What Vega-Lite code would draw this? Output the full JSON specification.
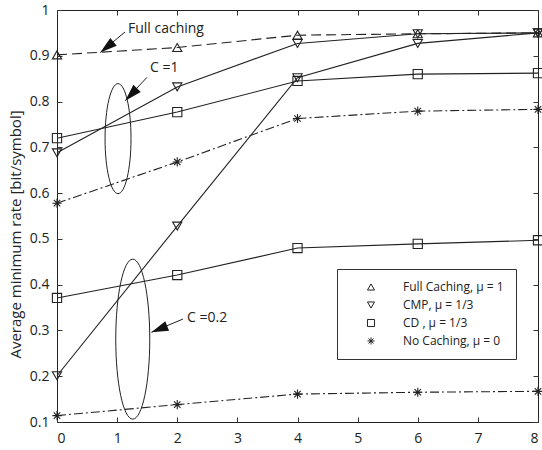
{
  "$schema": "https://vega.github.io/schema/vega-lite/v6.json",
  "width": 481,
  "height": 412,
  "autosize": "none",
  "padding": {"left": 57, "top": 10, "right": 4, "bottom": 28},
  "background": "white",
  "config": {
    "view": {"stroke": "#222", "strokeWidth": 1},
    "font": "Open Sans",
    "axis": {
      "grid": false,
      "domain": false,
      "tickColor": "#333",
      "tickSize": -5,
      "labelColor": "#222",
      "labelFont": "Open Sans",
      "labelFontSize": 14,
      "titleFont": "Open Sans",
      "titleFontSize": 15,
      "titleFontWeight": "normal",
      "titleColor": "#222"
    }
  },
  "resolve": {"axis": {"x": "independent", "y": "independent"}},
  "datasets": {
    "curves": [
      {"method": "Full Caching, μ = 1", "C": "all", "x": 0, "y": 0.902},
      {"method": "Full Caching, μ = 1", "C": "all", "x": 2, "y": 0.918},
      {"method": "Full Caching, μ = 1", "C": "all", "x": 4, "y": 0.945},
      {"method": "Full Caching, μ = 1", "C": "all", "x": 6, "y": 0.948},
      {"method": "Full Caching, μ = 1", "C": "all", "x": 8, "y": 0.95},
      {"method": "CMP,  μ = 1/3", "C": "1", "x": 0, "y": 0.688},
      {"method": "CMP,  μ = 1/3", "C": "1", "x": 2, "y": 0.832},
      {"method": "CMP,  μ = 1/3", "C": "1", "x": 4, "y": 0.927},
      {"method": "CMP,  μ = 1/3", "C": "1", "x": 6, "y": 0.948},
      {"method": "CMP,  μ = 1/3", "C": "1", "x": 8, "y": 0.95},
      {"method": "CMP,  μ = 1/3", "C": "0.2", "x": 0, "y": 0.201},
      {"method": "CMP,  μ = 1/3", "C": "0.2", "x": 2, "y": 0.528},
      {"method": "CMP,  μ = 1/3", "C": "0.2", "x": 4, "y": 0.852},
      {"method": "CMP,  μ = 1/3", "C": "0.2", "x": 6, "y": 0.927},
      {"method": "CMP,  μ = 1/3", "C": "0.2", "x": 8, "y": 0.95},
      {"method": "CD , μ = 1/3", "C": "1", "x": 0, "y": 0.72},
      {"method": "CD , μ = 1/3", "C": "1", "x": 2, "y": 0.777},
      {"method": "CD , μ = 1/3", "C": "1", "x": 4, "y": 0.845},
      {"method": "CD , μ = 1/3", "C": "1", "x": 6, "y": 0.86},
      {"method": "CD , μ = 1/3", "C": "1", "x": 8, "y": 0.862},
      {"method": "CD , μ = 1/3", "C": "0.2", "x": 0, "y": 0.371},
      {"method": "CD , μ = 1/3", "C": "0.2", "x": 2, "y": 0.421},
      {"method": "CD , μ = 1/3", "C": "0.2", "x": 4, "y": 0.48},
      {"method": "CD , μ = 1/3", "C": "0.2", "x": 6, "y": 0.489},
      {"method": "CD , μ = 1/3", "C": "0.2", "x": 8, "y": 0.497},
      {"method": "No Caching, μ = 0", "C": "1", "x": 0, "y": 0.578},
      {"method": "No Caching, μ = 0", "C": "1", "x": 2, "y": 0.668},
      {"method": "No Caching, μ = 0", "C": "1", "x": 4, "y": 0.763},
      {"method": "No Caching, μ = 0", "C": "1", "x": 6, "y": 0.779},
      {"method": "No Caching, μ = 0", "C": "1", "x": 8, "y": 0.783},
      {"method": "No Caching, μ = 0", "C": "0.2", "x": 0, "y": 0.114},
      {"method": "No Caching, μ = 0", "C": "0.2", "x": 2, "y": 0.138},
      {"method": "No Caching, μ = 0", "C": "0.2", "x": 4, "y": 0.161},
      {"method": "No Caching, μ = 0", "C": "0.2", "x": 6, "y": 0.165},
      {"method": "No Caching, μ = 0", "C": "0.2", "x": 8, "y": 0.167}
    ],
    "labels": [
      {"label": "Full caching", "x": 1.18, "y": 0.958},
      {"label": "C =1", "x": 1.547, "y": 0.873},
      {"label": "C =0.2", "x": 2.162, "y": 0.327}
    ],
    "arrows": [
      {"name": "full", "x": 1.131, "y": 0.952, "x2": 0.72, "y2": 0.907},
      {"name": "c1", "x": 1.497, "y": 0.853, "x2": 1.135, "y2": 0.802},
      {"name": "c02", "x": 2.096, "y": 0.325, "x2": 1.57, "y2": 0.296}
    ]
  },
  "layer": [
    {
      "data": {"name": "curves"},
      "transform": [{"filter": "datum.method === 'Full Caching, μ = 1'"}],
      "mark": {"type": "line", "color": "#222", "strokeWidth": 1.1, "strokeDash": [10, 5]},
      "encoding": {
        "x": {"field": "x", "type": "quantitative", "scale": {"domain": [0, 8]}, "axis": {"values": [0,1,2,3,4,5,6,7,8], "title": null, "labelPadding": 14}},
        "y": {"field": "y", "type": "quantitative", "scale": {"domain": [0.1, 1], "zero": false}, "axis": {"values": [0.1,0.2,0.3,0.4,0.5,0.6,0.7,0.8,0.9,1], "format": "~g", "title": "Average minimum rate [bit/symbol]", "labelPadding": 13, "titleX": -42, "titleY": 224, "titleAngle": -90, "titleAlign": "center", "titleBaseline": "middle"}}
      }
    },
    {
      "data": {"name": "curves"},
      "transform": [{"filter": "datum.method === 'CMP,  μ = 1/3' || datum.method === 'CD , μ = 1/3'"}],
      "mark": {"type": "line", "color": "#222", "strokeWidth": 1.1},
      "encoding": {
        "x": {"field": "x", "type": "quantitative", "axis": {"orient": "top", "labels": false, "title": null, "values": [0,1,2,3,4,5,6,7,8]}},
        "y": {"field": "y", "type": "quantitative", "axis": {"orient": "right", "labels": false, "title": null, "values": [0.1,0.2,0.3,0.4,0.5,0.6,0.7,0.8,0.9,1]}},
        "detail": [{"field": "method"}, {"field": "C"}]
      }
    },
    {
      "data": {"name": "curves"},
      "transform": [{"filter": "datum.method === 'No Caching, μ = 0'"}],
      "mark": {"type": "line", "color": "#222", "strokeWidth": 1.1, "strokeDash": [9, 3, 2, 3]},
      "encoding": {
        "x": {"field": "x", "type": "quantitative", "axis": null},
        "y": {"field": "y", "type": "quantitative", "axis": null},
        "detail": {"field": "C"}
      }
    },
    {
      "data": {"name": "curves"},
      "mark": {"type": "point", "filled": false, "color": "#222", "strokeWidth": 1.1, "size": 85, "opacity": 1},
      "encoding": {
        "x": {"field": "x", "type": "quantitative", "axis": null},
        "y": {"field": "y", "type": "quantitative", "axis": null},
        "shape": {"field": "method", "type": "nominal",
          "scale": {"domain": ["Full Caching, μ = 1", "CMP,  μ = 1/3", "CD , μ = 1/3", "No Caching, μ = 0"],
                    "range": ["triangle-up", "triangle-down", "square", "M0,-1L0,1M-1,0L1,0M-0.7,-0.7L0.7,0.7M-0.7,0.7L0.7,-0.7"]},
          "legend": {
            "title": null, "orient": "none", "legendX": 280, "legendY": 259,
            "strokeColor": "#333", "fillColor": "white", "padding": 12,
            "symbolSize": 50, "symbolStrokeColor": "#222", "symbolFillColor": "transparent", "symbolStrokeWidth": 1,
            "symbolOffset": 16, "labelOffset": 26,
            "labelFont": "Open Sans", "labelFontSize": 12, "labelColor": "#222", "rowPadding": 6, "labelLimit": 300
          }
        }
      }
    },
    {
      "data": {"name": "arrows"},
      "mark": {"type": "rule", "color": "#222", "strokeWidth": 1},
      "encoding": {
        "x": {"field": "x", "type": "quantitative", "axis": null},
        "y": {"field": "y", "type": "quantitative", "axis": null},
        "x2": {"field": "x2"},
        "y2": {"field": "y2"}
      }
    },
    {
      "data": {"name": "arrows"},
      "transform": [{"filter": "datum.name === 'full'"}],
      "mark": {"type": "point", "shape": "M0,0L0.6,2L-0.6,2Z", "filled": true, "color": "#111", "opacity": 1, "size": 289, "angle": 231},
      "encoding": {"x": {"field": "x2", "type": "quantitative", "axis": null}, "y": {"field": "y2", "type": "quantitative", "axis": null}}
    },
    {
      "data": {"name": "arrows"},
      "transform": [{"filter": "datum.name === 'c1'"}],
      "mark": {"type": "point", "shape": "M0,0L0.6,2L-0.6,2Z", "filled": true, "color": "#111", "opacity": 1, "size": 289, "angle": 224},
      "encoding": {"x": {"field": "x2", "type": "quantitative", "axis": null}, "y": {"field": "y2", "type": "quantitative", "axis": null}}
    },
    {
      "data": {"name": "arrows"},
      "transform": [{"filter": "datum.name === 'c02'"}],
      "mark": {"type": "point", "shape": "M0,0L0.6,2L-0.6,2Z", "filled": true, "color": "#111", "opacity": 1, "size": 289, "angle": 248},
      "encoding": {"x": {"field": "x2", "type": "quantitative", "axis": null}, "y": {"field": "y2", "type": "quantitative", "axis": null}}
    },
    {
      "data": {"name": "labels"},
      "mark": {"type": "text", "align": "left", "baseline": "middle", "font": "Open Sans", "fontSize": 14, "color": "#222"},
      "encoding": {"x": {"field": "x", "type": "quantitative", "axis": null}, "y": {"field": "y", "type": "quantitative", "axis": null}, "text": {"field": "label"}}
    },
    {
      "data": {"values": [{"x": 1.015, "y": 0.719}]},
      "mark": {"type": "point", "shape": "M-0.236,0A0.236,1 0 1,0 0.236,0A0.236,1 0 1,0 -0.236,0Z", "filled": false, "color": "#222", "strokeWidth": 1, "size": 12100, "opacity": 1},
      "encoding": {"x": {"field": "x", "type": "quantitative", "axis": null}, "y": {"field": "y", "type": "quantitative", "axis": null}}
    },
    {
      "data": {"values": [{"x": 1.26, "y": 0.281}]},
      "mark": {"type": "point", "shape": "M-0.2125,0A0.2125,1 0 1,0 0.2125,0A0.2125,1 0 1,0 -0.2125,0Z", "filled": false, "color": "#222", "strokeWidth": 1, "size": 25600, "opacity": 1},
      "encoding": {"x": {"field": "x", "type": "quantitative", "axis": null}, "y": {"field": "y", "type": "quantitative", "axis": null}}
    }
  ]
}
